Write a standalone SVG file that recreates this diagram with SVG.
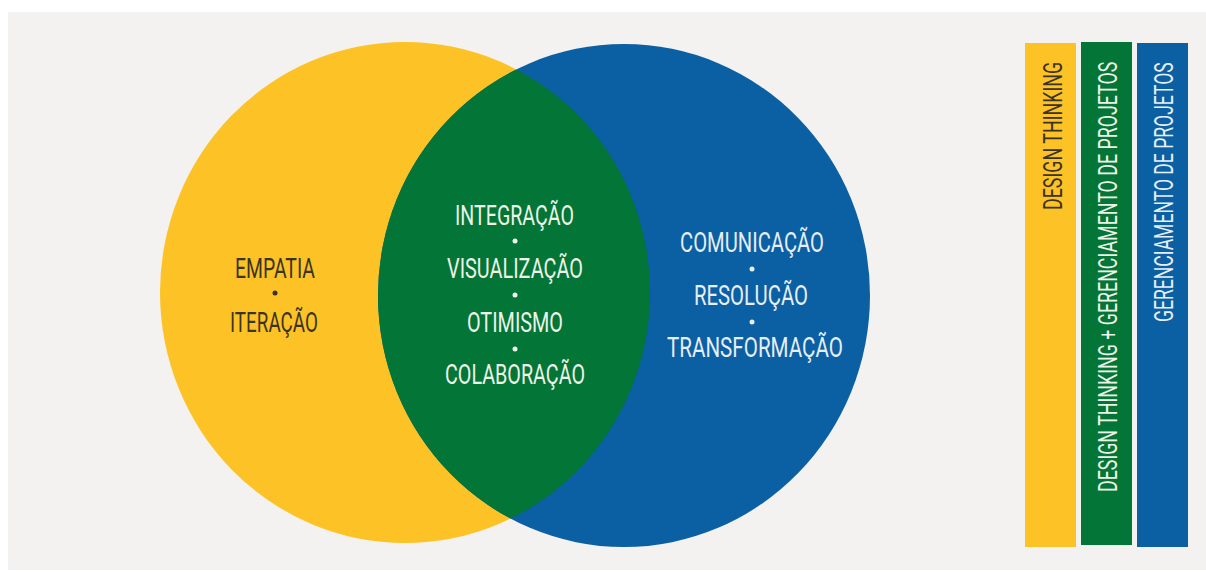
<svg xmlns="http://www.w3.org/2000/svg" width="1206" height="572" viewBox="0 0 1206 572">
<style>
text{font-family:"Roboto","Liberation Sans",sans-serif;font-weight:400;font-size:27px;text-anchor:middle}
.dk{fill:#3b3324}
.lt{fill:#eef3e8}
.lb{fill:#e6eef6}
.bar{font-size:26px;text-anchor:start}
</style>
<defs>
<clipPath id="clipY"><ellipse cx="405" cy="292.5" rx="245" ry="250.5"/></clipPath>
</defs>
<rect x="0" y="0" width="1206" height="572" fill="#ffffff"/>
<rect x="8" y="12" width="1198" height="558" fill="#f3f2f0"/>
<g id="design-thinking">
<ellipse cx="405" cy="292.5" rx="245" ry="250.5" fill="#fdc326"/>
<text class="dk" x="275" y="278" textLength="80" lengthAdjust="spacingAndGlyphs">EMPATIA</text>
<circle class="dk" cx="275" cy="293" r="2.5"/>
<text class="dk" x="274" y="332" textLength="88" lengthAdjust="spacingAndGlyphs">ITERAÇÃO</text>
</g>
<g id="gerenciamento">
<ellipse cx="624" cy="295.5" rx="246" ry="251.5" fill="#0b5fa3"/>
<text class="lb" x="752" y="252" textLength="144" lengthAdjust="spacingAndGlyphs">COMUNICAÇÃO</text>
<circle class="lb" cx="752" cy="269" r="2.5"/>
<text class="lb" x="751" y="305" textLength="114" lengthAdjust="spacingAndGlyphs">RESOLUÇÃO</text>
<circle class="lb" cx="752" cy="322" r="2.5"/>
<text class="lb" x="755" y="357" textLength="176" lengthAdjust="spacingAndGlyphs">TRANSFORMAÇÃO</text>
</g>
<g id="intersecao">
<ellipse cx="624" cy="295.5" rx="246" ry="251.5" fill="#037536" clip-path="url(#clipY)"/>
<text class="lt" x="514.5" y="225" textLength="119" lengthAdjust="spacingAndGlyphs">INTEGRAÇÃO</text>
<circle class="lt" cx="515" cy="241" r="2.5"/>
<text class="lt" x="515" y="278" textLength="136" lengthAdjust="spacingAndGlyphs">VISUALIZAÇÃO</text>
<circle class="lt" cx="515" cy="295" r="2.5"/>
<text class="lt" x="515" y="332" textLength="96" lengthAdjust="spacingAndGlyphs">OTIMISMO</text>
<circle class="lt" cx="515" cy="349" r="2.5"/>
<text class="lt" x="515" y="384" textLength="140" lengthAdjust="spacingAndGlyphs">COLABORAÇÃO</text>
</g>
<g id="legenda-design-thinking">
<rect x="1025" y="43" width="51" height="504" fill="#fdc326"/>
<text class="dk bar" transform="translate(1062,210) rotate(-90) scale(0.62,1)" textLength="239" lengthAdjust="spacingAndGlyphs">DESIGN THINKING</text>
</g>
<g id="legenda-ambos">
<rect x="1081" y="42" width="51" height="503" fill="#037536"/>
<text class="lt bar" transform="translate(1117,492) rotate(-90) scale(0.62,1)" textLength="694" lengthAdjust="spacingAndGlyphs">DESIGN THINKING + GERENCIAMENTO DE PROJETOS</text>
</g>
<g id="legenda-gerenciamento">
<rect x="1137" y="43" width="51" height="504" fill="#0b5fa3"/>
<text class="lb bar" transform="translate(1173,322) rotate(-90) scale(0.62,1)" textLength="419" lengthAdjust="spacingAndGlyphs">GERENCIAMENTO DE PROJETOS</text>
</g>
</svg>
